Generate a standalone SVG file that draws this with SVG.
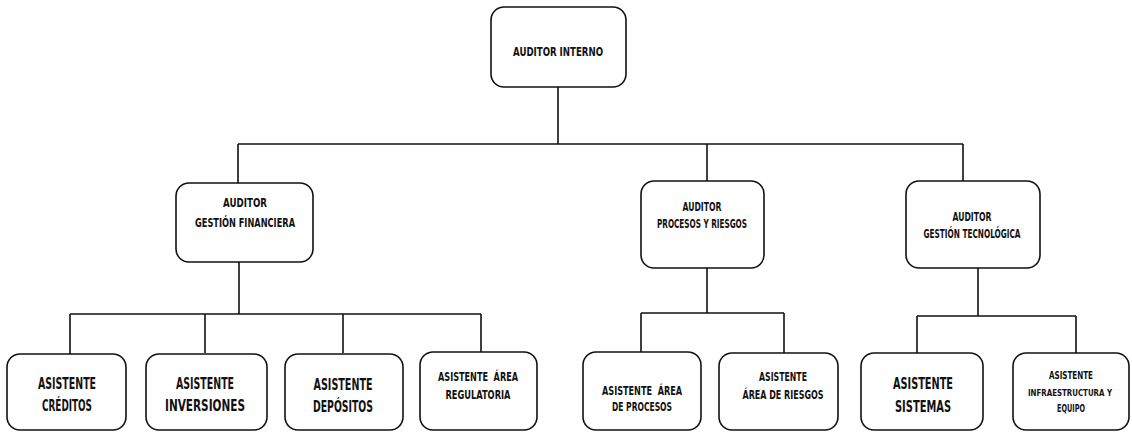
<svg xmlns="http://www.w3.org/2000/svg" width="1132" height="432" viewBox="0 0 1132 432">
<style>
.box{fill:#fff;stroke:#111;stroke-width:1.6}
.ln{fill:none;stroke:#111;stroke-width:1.6}
text{font-family:"Liberation Sans Narrow","DejaVu Sans Condensed","Liberation Sans",sans-serif;font-weight:bold;fill:#111;text-anchor:middle}
.s{font-size:12px}
.m{font-size:13px}
.l{font-size:16px}
.xs{font-size:10px}
.xxs{font-size:9px}
</style>
<rect width="1132" height="432" fill="#fff"/>
<g id="connectors">
<path class="ln" d="M558 87V144M238 144H963M238 144V183M707 144V181M963 144V181"/>
<path class="ln" d="M239 262V314M70 314H481M70 314V354M205 314V353M343 314V353M481 314V352"/>
<path class="ln" d="M707 268V313M641 313H784M641 313V352M784 313V353"/>
<path class="ln" d="M978 268V316M917 316H1076M917 316V353M1076 316V353"/>
</g>
<g id="auditor-interno">
<rect class="box" x="491" y="7" width="135" height="80" rx="13"/>
<text class="s" x="558" y="56" textLength="90" lengthAdjust="spacingAndGlyphs">AUDITOR INTERNO</text>
</g>
<g id="auditor-financiera">
<rect class="box" x="176" y="183" width="137" height="79" rx="13"/>
<text class="s" x="245" y="207" textLength="44" lengthAdjust="spacingAndGlyphs">AUDITOR</text>
<text class="s" x="245" y="227" textLength="100" lengthAdjust="spacingAndGlyphs">GESTIÓN FINANCIERA</text>
</g>
<g id="auditor-procesos">
<rect class="box" x="641" y="181" width="123" height="87" rx="13"/>
<text class="s" x="702" y="211" textLength="39" lengthAdjust="spacingAndGlyphs">AUDITOR</text>
<text class="s" x="702" y="228" textLength="90" lengthAdjust="spacingAndGlyphs">PROCESOS Y RIESGOS</text>
</g>
<g id="auditor-tecnologica">
<rect class="box" x="906" y="181" width="134" height="87" rx="13"/>
<text class="s" x="972" y="221" textLength="39" lengthAdjust="spacingAndGlyphs">AUDITOR</text>
<text class="s" x="972" y="238" textLength="97" lengthAdjust="spacingAndGlyphs">GESTIÓN TECNOLÓGICA</text>
</g>
<g id="asistente-creditos">
<rect class="box" x="7" y="354" width="119" height="76" rx="13"/>
<text class="l" x="67" y="389" textLength="58" lengthAdjust="spacingAndGlyphs">ASISTENTE</text>
<text class="l" x="67" y="411" textLength="50" lengthAdjust="spacingAndGlyphs">CRÉDITOS</text>
</g>
<g id="asistente-inversiones">
<rect class="box" x="146" y="354" width="121" height="76" rx="13"/>
<text class="l" x="205" y="389" textLength="58" lengthAdjust="spacingAndGlyphs">ASISTENTE</text>
<text class="l" x="205" y="411" textLength="80" lengthAdjust="spacingAndGlyphs">INVERSIONES</text>
</g>
<g id="asistente-depositos">
<rect class="box" x="285" y="354" width="118" height="76" rx="13"/>
<text class="l" x="343" y="390" textLength="59" lengthAdjust="spacingAndGlyphs">ASISTENTE</text>
<text class="l" x="343" y="412" textLength="60" lengthAdjust="spacingAndGlyphs">DEPÓSITOS</text>
</g>
<g id="asistente-regulatoria">
<rect class="box" x="420" y="352" width="117" height="78" rx="13"/>
<text class="s" x="478" y="381" textLength="80" lengthAdjust="spacingAndGlyphs">ASISTENTE &#160;ÁREA</text>
<text class="s" x="478" y="399" textLength="65" lengthAdjust="spacingAndGlyphs">REGULATORIA</text>
</g>
<g id="asistente-procesos">
<rect class="box" x="583" y="352" width="118" height="78" rx="13"/>
<text class="m" x="642" y="395" textLength="80" lengthAdjust="spacingAndGlyphs">ASISTENTE &#160;ÁREA</text>
<text class="m" x="642" y="411" textLength="60" lengthAdjust="spacingAndGlyphs">DE PROCESOS</text>
</g>
<g id="asistente-riesgos">
<rect class="box" x="719" y="353" width="119" height="77" rx="13"/>
<text class="s" x="783" y="381" textLength="48" lengthAdjust="spacingAndGlyphs">ASISTENTE</text>
<text class="s" x="783" y="399" textLength="81" lengthAdjust="spacingAndGlyphs">ÁREA DE RIESGOS</text>
</g>
<g id="asistente-sistemas">
<rect class="box" x="861" y="353" width="122" height="77" rx="13"/>
<text class="l" x="923" y="389" textLength="60" lengthAdjust="spacingAndGlyphs">ASISTENTE</text>
<text class="l" x="923" y="412" textLength="56" lengthAdjust="spacingAndGlyphs">SISTEMAS</text>
</g>
<g id="asistente-infraestructura">
<rect class="box" x="1013" y="353" width="116" height="77" rx="13"/>
<text class="xs" x="1071" y="379" textLength="44" lengthAdjust="spacingAndGlyphs">ASISTENTE</text>
<text class="xxs" x="1070" y="396" textLength="84" lengthAdjust="spacingAndGlyphs">INFRAESTRUCTURA Y</text>
<text class="xs" x="1071" y="412" textLength="28" lengthAdjust="spacingAndGlyphs">EQUIPO</text>
</g>
</svg>
